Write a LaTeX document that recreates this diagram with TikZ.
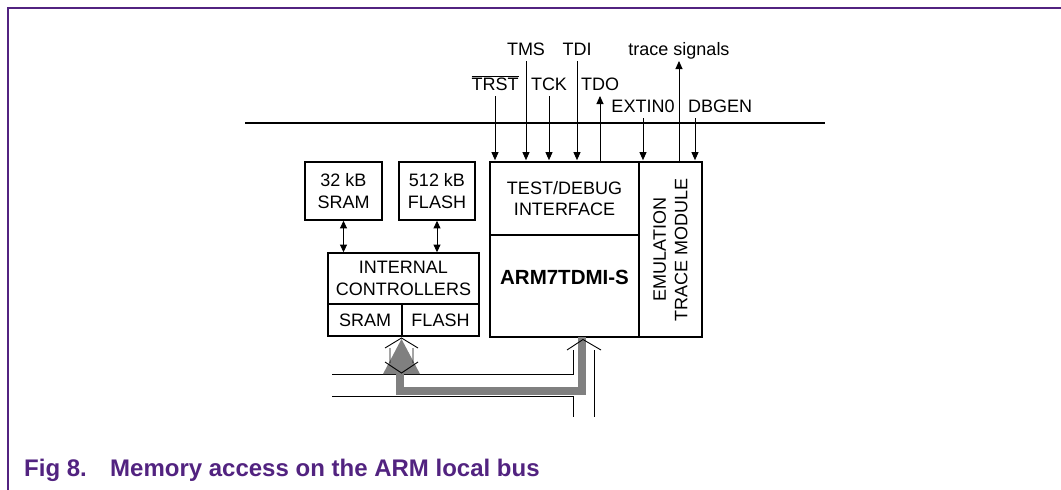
\documentclass[tikz,border=0pt]{standalone}
\usepackage{fontspec}
\setmainfont{Liberation Sans}
\usetikzlibrary{arrows.meta}
\definecolor{figpurple}{RGB}{82,35,128}
\definecolor{busgray}{RGB}{128,128,128}
\begin{document}
\begin{tikzpicture}[x=1pt,y=-1pt,font=\fontsize{18}{21.5}\selectfont,
    blk/.style={draw,line width=1.7pt,inner sep=0pt,align=center},
    siglab/.style={inner sep=0pt,anchor=base},
    sigdown/.style={line width=0.9pt,shorten <=6pt,shorten >=1pt,-{Triangle[length=8pt,width=7pt]}},
    sigup/.style={line width=0.9pt,shorten >=6pt,-{Triangle[length=8pt,width=7pt]}},
    dbl/.style={line width=0.9pt,{Triangle[length=7.5pt,width=7pt]}-{Triangle[length=7.5pt,width=7pt]}},
    caption/.style={anchor=base west,inner sep=0pt,text=figpurple,font=\fontsize{24}{28}\selectfont\bfseries}]
  \useasboundingbox (0,0) rectangle (1061,490);
  \draw[figpurple,line width=1.5pt] (1061,8) -- (8,8) -- (8,490);

  % memories and controllers
  \node[blk,minimum width=77,minimum height=58] (sram) at (343.5,191) {32 kB\\SRAM};
  \node[blk,minimum width=76,minimum height=58] (flash) at (437,191) {512 kB\\FLASH};
  \node[blk,minimum width=151,minimum height=51] (ctrl) at (403.5,278.5) {INTERNAL\\CONTROLLERS};
  \node[blk,minimum width=74,minimum height=32] (sramc) at (365,320) {SRAM};
  \node[blk,minimum width=77,minimum height=32] (flashc) at (440.5,320) {FLASH};
  \draw[dbl] (sram.south) -- (sram.south |- ctrl.north);
  \draw[dbl] (flash.south) -- (flash.south |- ctrl.north);

  % core
  \node[blk,minimum width=149,minimum height=73] (dbg) at (564.5,198.5) {TEST/DEBUG\\INTERFACE};
  \node[blk,minimum width=149,minimum height=102,text depth=18pt,
        font=\fontsize{20.5}{24}\selectfont\bfseries] (arm) at (564.5,286) {ARM7TDMI-S};
  \node[blk,rotate=90,minimum width=175,minimum height=63] (emu) at (670.5,249.5)
        {EMULATION\\TRACE MODULE};

  % debug signals
  \draw[line width=1.8pt] (245,123) -- (825,123);
  \node[siglab] (tms) at (526,55) {TMS};
  \node[siglab] (tdi) at (577,55) {TDI};
  \node[siglab] (trace) at (679,55) {trace signals};
  \node[siglab] (trst) at (495,90) {$\overline{\hbox{TRST}}$};
  \node[siglab] (tck) at (549,90) {TCK};
  \node[siglab] (tdo) at (600,90) {TDO};
  \node[siglab] (extin) at (643,112) {EXTIN0};
  \node[siglab,anchor=base west] (dbgen) at (688,112) {DBGEN};
  \coordinate (dbgin) at ([xshift=7pt]dbgen.base west);
  \draw[sigdown] (trst.base) -- (trst.base |- dbg.north);
  \draw[sigdown] (tms.base) -- (tms.base |- dbg.north);
  \draw[sigdown] (tck.base) -- (tck.base |- dbg.north);
  \draw[sigdown] (tdi.base) -- (tdi.base |- dbg.north);
  \draw[sigup] (tdo.base |- dbg.north) -- (tdo.base);
  \draw[sigdown] (extin.base) -- (extin.base |- dbg.north);
  \draw[sigup] (trace.base |- dbg.north) -- (trace.base);
  \draw[sigdown] (dbgin) -- (dbgin |- dbg.north);

  % local bus
  \draw[line width=0.9pt] (332,374) -- (573,374) -- (573,350)
        (332,396) -- (573,396) -- (573,417) (594,350) -- (594,417);
  \fill[busgray] (401.5,339) -- (383,374) -- (420,374) -- cycle;
  \draw[busgray,line width=8pt] (400,372) -- (400,390.5) -- (582,390.5) -- (582,337);
  \draw[line width=0.9pt] (385,348) -- (401.5,338) -- (418,348)
        (385,362) -- (401.5,373) -- (418,362) (390,348) -- (390,363) (413,348) -- (413,363)
        (567,350) -- (583,339.5) -- (601,350);

  \node[caption] (figno) at (24,476) {Fig 8.};
  \node[caption] (figtitle) at (110,476) {Memory access on the ARM local bus};
\end{tikzpicture}
\end{document}
